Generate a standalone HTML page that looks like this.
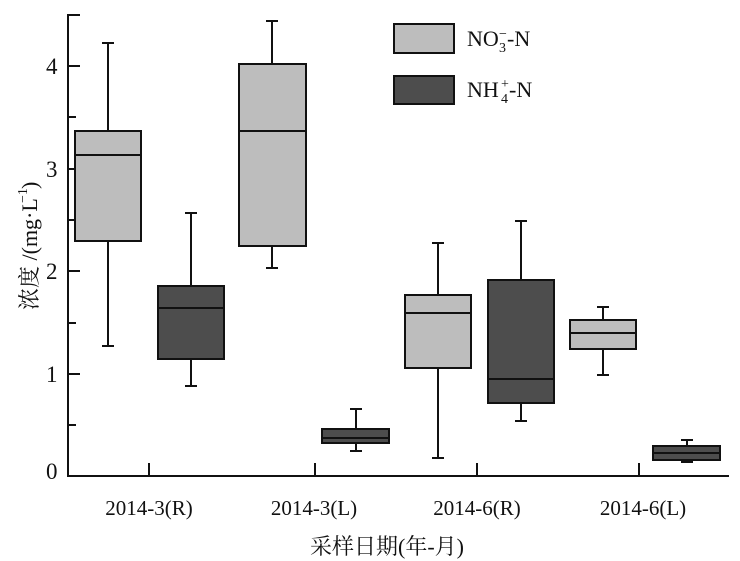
<!DOCTYPE html>
<html><head><meta charset="utf-8"><style>
html,body{margin:0;padding:0;background:#fff;}
svg{display:block;}
text{font-family:"Liberation Serif","Noto Serif CJK SC",serif;fill:#111;}
</style></head><body>
<svg width="740" height="561" viewBox="0 0 740 561" xmlns="http://www.w3.org/2000/svg">
<g stroke="#111" stroke-width="2" fill="none">
<line x1="68" y1="14" x2="68" y2="477"/>
<line x1="67" y1="476" x2="729" y2="476"/>
<line x1="68" y1="15" x2="80" y2="15"/>
<line x1="68" y1="66" x2="80" y2="66"/>
<line x1="68" y1="117" x2="76" y2="117"/>
<line x1="68" y1="169" x2="80" y2="169"/>
<line x1="68" y1="220" x2="76" y2="220"/>
<line x1="68" y1="271" x2="80" y2="271"/>
<line x1="68" y1="323" x2="76" y2="323"/>
<line x1="68" y1="374" x2="80" y2="374"/>
<line x1="68" y1="425" x2="76" y2="425"/>
<line x1="149" y1="476" x2="149" y2="463"/>
<line x1="315" y1="476" x2="315" y2="463"/>
<line x1="477" y1="476" x2="477" y2="463"/>
<line x1="639" y1="476" x2="639" y2="463"/>
</g>
<g font-size="23">
<text x="46" y="479">0</text>
<text x="46" y="382">1</text>
<text x="46" y="279">2</text>
<text x="46" y="177">3</text>
<text x="46" y="74">4</text>
</g>
<g font-size="21">
<text x="149" y="515" text-anchor="middle">2014-3(R)</text>
<text x="314" y="515" text-anchor="middle">2014-3(L)</text>
<text x="477" y="515" text-anchor="middle">2014-6(R)</text>
<text x="643" y="515" text-anchor="middle">2014-6(L)</text>
<text x="310" y="554" font-size="22">采样日期(年-月)</text>
<g transform="translate(37,310) rotate(-90)">
<text x="0" y="0" font-size="22">浓度 /(mg·L</text>
<text x="107" y="-10" font-size="14">−1</text>
<text x="121" y="0" font-size="22">)</text>
</g>
</g>
<g stroke="#111" stroke-width="2">
<line x1="108" y1="43" x2="108" y2="346"/><line x1="102" y1="43" x2="114" y2="43"/><line x1="102" y1="346" x2="114" y2="346"/>
<rect x="75" y="131" width="66" height="110" fill="#bdbdbd"/><line x1="75" y1="155" x2="141" y2="155"/>
<line x1="191" y1="213" x2="191" y2="386"/><line x1="185" y1="213" x2="197" y2="213"/><line x1="185" y1="386" x2="197" y2="386"/>
<rect x="158" y="286" width="66" height="73" fill="#4d4d4d"/><line x1="158" y1="308" x2="224" y2="308"/>
<line x1="272" y1="21" x2="272" y2="268"/><line x1="266" y1="21" x2="278" y2="21"/><line x1="266" y1="268" x2="278" y2="268"/>
<rect x="239" y="64" width="67" height="182" fill="#bdbdbd"/><line x1="239" y1="131" x2="306" y2="131"/>
<line x1="356" y1="409" x2="356" y2="451"/><line x1="350" y1="409" x2="362" y2="409"/><line x1="350" y1="451" x2="362" y2="451"/>
<rect x="322" y="429" width="67" height="14" fill="#4d4d4d"/><line x1="322" y1="438" x2="389" y2="438"/>
<line x1="438" y1="243" x2="438" y2="458"/><line x1="432" y1="243" x2="444" y2="243"/><line x1="432" y1="458" x2="444" y2="458"/>
<rect x="405" y="295" width="66" height="73" fill="#bdbdbd"/><line x1="405" y1="313" x2="471" y2="313"/>
<line x1="521" y1="221" x2="521" y2="421"/><line x1="515" y1="221" x2="527" y2="221"/><line x1="515" y1="421" x2="527" y2="421"/>
<rect x="488" y="280" width="66" height="123" fill="#4d4d4d"/><line x1="488" y1="379" x2="554" y2="379"/>
<line x1="603" y1="307" x2="603" y2="375"/><line x1="597" y1="307" x2="609" y2="307"/><line x1="597" y1="375" x2="609" y2="375"/>
<rect x="570" y="320" width="66" height="29" fill="#bdbdbd"/><line x1="570" y1="333" x2="636" y2="333"/>
<line x1="687" y1="440" x2="687" y2="462"/><line x1="681" y1="440" x2="693" y2="440"/><line x1="681" y1="462" x2="693" y2="462"/>
<rect x="653" y="446" width="67" height="14" fill="#4d4d4d"/><line x1="653" y1="453" x2="720" y2="453"/>
<rect x="394" y="24" width="60" height="29" fill="#bdbdbd"/>
<rect x="394" y="76" width="60" height="28" fill="#4d4d4d"/>
</g>
<g font-size="22">
<text x="467" y="46">NO</text><text x="499" y="52" font-size="14">3</text><text x="499" y="38" font-size="14">−</text><text x="507" y="46">-N</text>
<text x="467" y="97">NH</text><text x="501" y="103" font-size="14">4</text><text x="501" y="88" font-size="14">+</text><text x="509" y="97">-N</text>
</g>
</svg>
</body></html>
